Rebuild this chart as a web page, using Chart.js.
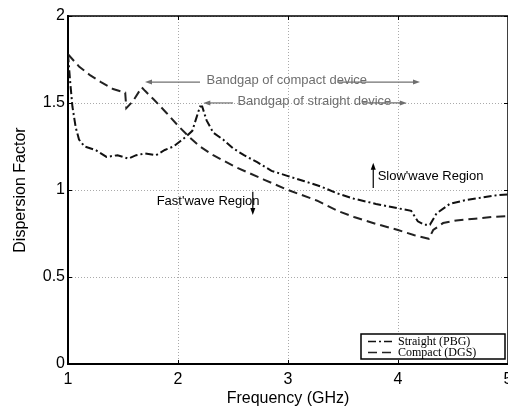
<!DOCTYPE html>
<html>
<head>
<meta charset="utf-8">
<script src="https://cdn.jsdelivr.net/npm/chart.js@4"></script>
<style>
html, body { margin: 0; padding: 0; overflow: hidden; background: #fff; }
#wrap { width: 508px; height: 412px; overflow: hidden; }
</style>
</head>
<body>
<div id="wrap"><canvas id="grafik" width="540" height="412"></canvas></div>
<script>
// frequency (GHz) / dispersion factor
let straightFreq = [1.00, 1.02, 1.04, 1.07, 1.10, 1.15, 1.25, 1.35, 1.45, 1.55, 1.62, 1.70, 1.80, 1.88, 1.96,
  2.02, 2.08, 2.13, 2.17, 2.20, 2.22, 2.26, 2.32, 2.41, 2.50, 2.60, 2.72, 2.85, 3.00, 3.15, 3.30, 3.45,
  3.60, 3.80, 4.00, 4.12, 4.18, 4.24, 4.29, 4.35, 4.47, 4.60, 4.75, 4.90, 5.00];
let straightVal = [1.78, 1.62, 1.48, 1.36, 1.29, 1.25, 1.23, 1.19, 1.20, 1.18, 1.20, 1.21, 1.20, 1.23, 1.25,
  1.28, 1.31, 1.34, 1.42, 1.48, 1.48, 1.40, 1.33, 1.29, 1.24, 1.20, 1.16, 1.11, 1.08, 1.05, 1.02, 0.98,
  0.95, 0.92, 0.895, 0.88, 0.82, 0.80, 0.80, 0.865, 0.92, 0.94, 0.955, 0.97, 0.975];

let compactFreq = [1.00, 1.10, 1.20, 1.30, 1.41, 1.52, 1.53, 1.59, 1.67, 1.70, 1.78, 1.90, 2.00, 2.11, 2.20,
  2.32, 2.53, 2.78, 3.00, 3.26, 3.45, 3.60, 3.80, 4.00, 4.15, 4.28, 4.32, 4.41, 4.53, 4.70, 4.85, 5.00];
let compactVal = [1.78, 1.71, 1.66, 1.62, 1.58, 1.56, 1.47, 1.51, 1.59, 1.57, 1.52, 1.44, 1.37, 1.30, 1.25,
  1.20, 1.13, 1.06, 1.00, 0.94, 0.88, 0.845, 0.805, 0.77, 0.74, 0.72, 0.77, 0.81, 0.825, 0.835, 0.845, 0.85];

let seriesNames = ['Straight (PBG)', 'Compact (DGS)'];
let xTicks = [1, 2, 3, 4, 5];
let yTicks = [0, 0.5, 1, 1.5, 2];

// callouts, in axis units
let bandgapNotes = [
  { text: 'Bandgap of compact device', x: 2.26, y: 1.626, arrows: [[2.2, 1.70], [3.45, 4.2]] },
  { text: 'Bandgap of straight device', x: 2.54, y: 1.506, arrows: [[2.5, 2.23], [3.68, 4.08]] }
];
let regionNotes = [
  { text: "Slow'wave Region", x: 3.815, y: 1.077, arrowX: 3.775, from: 1.011, to: 1.157 },
  { text: "Fast'wave Region", x: 1.806, y: 0.937, arrowX: 2.68, from: 0.99, to: 0.856 }
];

function pts(xs, ys) {
  return xs.map((v, i) => ({ x: v, y: ys[i] }));
}

function drawArrow(ctx, x1, y1, x2, y2) {
  const len = Math.hypot(x2 - x1, y2 - y1);
  const dx = (x2 - x1) / len, dy = (y2 - y1) / len;
  ctx.beginPath();
  ctx.moveTo(x1, y1);
  ctx.lineTo(x2 - dx * 5, y2 - dy * 5);
  ctx.stroke();
  ctx.beginPath();
  ctx.moveTo(x2, y2);
  ctx.lineTo(x2 - dx * 7 - dy * 2.5, y2 - dy * 7 + dx * 2.5);
  ctx.lineTo(x2 - dx * 7 + dy * 2.5, y2 - dy * 7 - dx * 2.5);
  ctx.closePath();
  ctx.fill();
}

const frame = {
  id: 'frame',
  afterDatasetsDraw(chart) {
    const { ctx, chartArea: a, scales: { x, y } } = chart;
    ctx.save();
    ctx.strokeStyle = '#000';
    ctx.lineWidth = 1.5;
    ctx.beginPath();
    ctx.moveTo(a.left, a.top);
    ctx.lineTo(a.right, a.top);
    ctx.lineTo(a.right, a.bottom);
    ctx.stroke();
    ctx.lineWidth = 1;
    ctx.beginPath();
    xTicks.forEach(v => {
      const px = Math.round(x.getPixelForValue(v)) + 0.5;
      ctx.moveTo(px, a.top); ctx.lineTo(px, a.top + 4);
      ctx.moveTo(px, a.bottom); ctx.lineTo(px, a.bottom - 4);
    });
    yTicks.forEach(v => {
      const py = Math.round(y.getPixelForValue(v)) + 0.5;
      ctx.moveTo(a.left, py); ctx.lineTo(a.left + 4, py);
      ctx.moveTo(a.right, py); ctx.lineTo(a.right - 4, py);
    });
    ctx.stroke();
    ctx.restore();
  }
};

const notes = {
  id: 'notes',
  afterDatasetsDraw(chart) {
    const { ctx, scales: { x, y } } = chart;
    ctx.save();
    ctx.font = '13px "Liberation Sans", Arial, sans-serif';
    ctx.textBaseline = 'middle';
    ctx.textAlign = 'left';

    bandgapNotes.forEach(n => {
      const py = y.getPixelForValue(n.y);
      ctx.fillStyle = '#6e6e6e';
      ctx.fillText(n.text, x.getPixelForValue(n.x), py - 1);
      ctx.strokeStyle = '#707070';
      ctx.lineWidth = 1.2;
      n.arrows.forEach(([a, b]) => {
        drawArrow(ctx, x.getPixelForValue(a), py + 1, x.getPixelForValue(b), py + 1);
      });
    });

    regionNotes.forEach(n => {
      ctx.fillStyle = '#000';
      ctx.fillText(n.text, x.getPixelForValue(n.x), y.getPixelForValue(n.y));
      ctx.strokeStyle = '#000';
      ctx.lineWidth = 1.2;
      const ax = x.getPixelForValue(n.arrowX);
      drawArrow(ctx, ax, y.getPixelForValue(n.from), ax, y.getPixelForValue(n.to));
    });
    ctx.restore();
  }
};

const legendBox = {
  id: 'legendBox',
  afterDraw(chart) {
    const { ctx, chartArea } = chart;
    const w = 144, h = 25;
    const x0 = chartArea.right - 3 - w;
    const y0 = chartArea.bottom - 5 - h;
    ctx.save();
    ctx.fillStyle = '#fff';
    ctx.fillRect(x0, y0, w, h);
    ctx.strokeStyle = '#000';
    ctx.lineWidth = 1.5;
    ctx.strokeRect(x0, y0, w, h);
    ctx.font = '12px "Liberation Serif", "Times New Roman", serif';
    ctx.textBaseline = 'middle';
    chart.data.datasets.forEach((ds, i) => {
      const yy = y0 + 7.5 + i * 11;
      ctx.setLineDash(ds.borderDash);
      ctx.lineWidth = 1.6;
      ctx.strokeStyle = ds.borderColor;
      ctx.beginPath();
      ctx.moveTo(x0 + 7, yy);
      ctx.lineTo(x0 + 32, yy);
      ctx.stroke();
      ctx.setLineDash([]);
      ctx.fillStyle = '#000';
      ctx.fillText(ds.label, x0 + 37, yy);
    });
    ctx.restore();
  }
};

const axisFont = { family: '"Liberation Sans", Arial, sans-serif', size: 16 };

let kanvas = document.getElementById('grafik');

let grafik = new Chart(kanvas, {
  type: 'line',
  data: {
    datasets: [{
      label: seriesNames[0],
      data: pts(straightFreq, straightVal),
      borderColor: '#111',
      borderWidth: 2,
      borderDash: [8, 3, 2, 3],
      pointRadius: 0,
      fill: false
    }, {
      label: seriesNames[1],
      data: pts(compactFreq, compactVal),
      borderColor: '#222',
      borderWidth: 2,
      borderDash: [9, 5],
      pointRadius: 0,
      fill: false
    }]
  },
  options: {
    responsive: false,
    animation: false,
    devicePixelRatio: 1,
    layout: { padding: { left: 0, top: 16, right: 32, bottom: 0 } },
    plugins: {
      legend: { display: false },
      tooltip: { enabled: false }
    },
    scales: {
      x: {
        type: 'linear',
        min: 1,
        max: 5,
        afterBuildTicks: s => { s.ticks = xTicks.map(v => ({ value: v })); },
        afterFit: s => { s.height = 48; },
        ticks: { font: axisFont, color: '#000', padding: 6, maxRotation: 0, callback: v => String(v) },
        grid: { color: '#aaa', lineWidth: 1, drawTicks: false },
        border: { color: '#000', width: 2, dash: [1, 2] },
        title: { display: true, text: 'Frequency (GHz)', font: axisFont, color: '#000', padding: { top: 0, bottom: 4 } }
      },
      y: {
        min: 0,
        max: 2,
        afterBuildTicks: s => { s.ticks = yTicks.map(v => ({ value: v })); },
        afterFit: s => { s.width = 68; },
        ticks: { font: axisFont, color: '#000', padding: 3, callback: v => String(v) },
        grid: { color: '#aaa', lineWidth: 1, drawTicks: false },
        border: { color: '#000', width: 2, dash: [1, 2] },
        title: { display: true, text: 'Dispersion Factor', font: axisFont, color: '#000', padding: { top: 11, bottom: 0 } }
      }
    }
  },
  plugins: [frame, notes, legendBox]
});
</script>
</body>
</html>
